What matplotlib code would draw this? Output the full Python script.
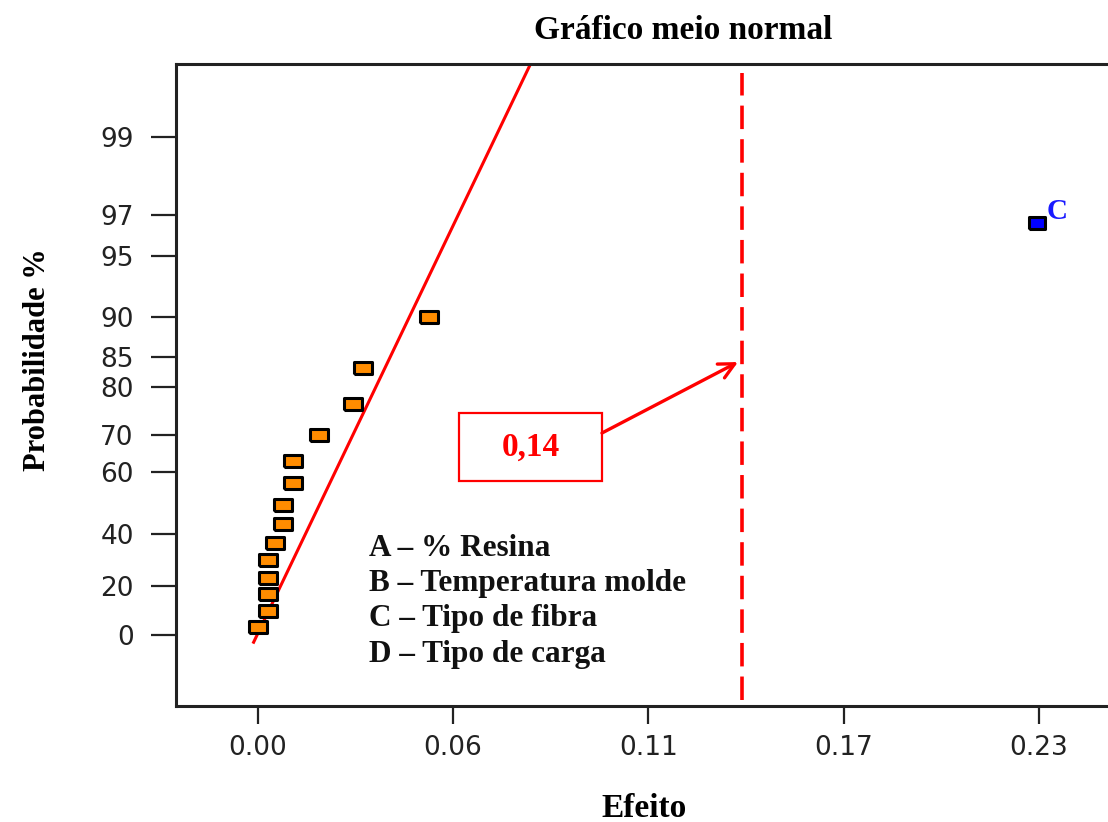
from statistics import NormalDist

import numpy as np
import matplotlib
matplotlib.use("Agg")
import matplotlib.pyplot as plt
from matplotlib.patches import Rectangle
from matplotlib.ticker import NullLocator

# ranked absolute effects and their half-normal probabilities (%)
effects = [0.0002, 0.0029, 0.0029, 0.0029, 0.0029, 0.0052, 0.0075, 0.0075,
           0.0105, 0.0105, 0.0180, 0.0281, 0.0309, 0.0505]
probs = [3.3, 10.0, 16.7, 23.3, 30.0, 36.7, 43.3, 50.0,
         56.7, 63.3, 70.0, 76.7, 83.3, 90.0]

# the significant effect (C - Tipo de fibra)
c_effect = 0.2293
c_prob = 96.7

# reference line through the small effects
line_effect = [-0.0012, 0.0822]
line_prob = [-3.0, 99.75]

# cut-off value
cutoff = 0.1425
cutoff_label = "0,14"

y_ticks = [0, 20, 40, 60, 70, 80, 85, 90, 95, 97, 99]
x_ticks = np.linspace(0, 0.23, 5)
x_ticklabels = ["0.00", "0.06", "0.11", "0.17", "0.23"]

legend_lines = ["A \u2013 % Resina",
                "B \u2013 Temperatura molde",
                "C \u2013 Tipo de fibra",
                "D \u2013 Tipo de carga"]

_nd = NormalDist()
_inv = np.vectorize(_nd.inv_cdf, otypes=[float])
_cdf = np.vectorize(_nd.cdf, otypes=[float])


def to_score(p):
    q = np.clip(0.5 + np.asarray(p, dtype=float) / 200.0, 1e-9, 1 - 1e-9)
    return _inv(q)


def from_score(z):
    return 200.0 * (_cdf(np.asarray(z, dtype=float)) - 0.5)


serif = "Liberation Serif"

fig = plt.figure(figsize=(11.08, 8.22), dpi=100)
ax = fig.add_axes([0.1584, 0.1417, 0.8452, 0.7804])
ax.set_yscale("function", functions=(to_score, from_score))

ax.plot(line_effect, line_prob, color="red", lw=2.2, zorder=2)
ax.axvline(cutoff, ymin=0.008, ymax=0.986, color="red", lw=2.6,
           linestyle=(0, (6.5, 2.8)), zorder=2)

rect_marker = [(-1.4, -1), (1.4, -1), (1.4, 1), (-1.4, 1), (-1.4, -1)]
ax.plot(effects, probs, linestyle="none", marker=rect_marker, ms=12.5,
        mfc="#ff8c00", mec="black", mew=2.2, zorder=3)
ax.plot([c_effect], [c_prob], linestyle="none", marker=rect_marker, ms=12,
        mfc="#0000ff", mec="black", mew=2.2, zorder=3)
ax.annotate("C", xy=(c_effect, c_prob), xytext=(7, 8),
            textcoords="offset points", ha="left", va="center",
            color="#1a1aff", fontsize=21, fontweight="bold", family=serif)

ax.set_xlim(-0.0242, 0.2515)
ax.set_ylim(-28.5, 99.686)

ax.set_xticks(x_ticks)
ax.set_xticklabels(x_ticklabels)
ax.set_yticks(y_ticks)
ax.set_yticklabels([str(v) for v in y_ticks])
ax.yaxis.set_minor_locator(NullLocator())
ax.xaxis.set_minor_locator(NullLocator())

ax.tick_params(axis="x", length=13, width=1.6, pad=8, labelsize=19,
               colors="#222222")
ax.tick_params(axis="y", length=18, width=1.6, pad=12, labelsize=19,
               colors="#222222")
for lab in ax.get_xticklabels() + ax.get_yticklabels():
    lab.set_family("DejaVu Sans")

ax.spines["right"].set_visible(False)
for s in ("left", "top", "bottom"):
    ax.spines[s].set_linewidth(2.2)
    ax.spines[s].set_color("#222222")

# legend of factors
for i, txt in enumerate(legend_lines):
    ax.text(0.207, 0.245 - i * 0.055, txt, transform=ax.transAxes,
            ha="left", va="center", fontsize=22.5, fontweight="bold",
            family=serif, color="#111111")

# cut-off box with arrow
ax.add_patch(Rectangle((0.3027, 0.35), 0.1527, 0.106, transform=ax.transAxes,
                       fill=False, ec="red", lw=1.6, zorder=4))
ax.text(0.379, 0.403, cutoff_label, transform=ax.transAxes, ha="center",
        va="center", fontsize=24, fontweight="bold", family=serif,
        color="red")
ax.annotate("", xy=(cutoff - 0.0011, 84.2), xytext=(0.4554, 0.4248),
            textcoords="axes fraction",
            arrowprops=dict(arrowstyle="->", color="red", lw=2.4,
                            mutation_scale=28, shrinkA=0, shrinkB=0))

fig.text(0.617, 0.963, "Gr\u00e1fico meio normal", ha="center", va="center",
         fontsize=24, fontweight="bold", family=serif)
fig.text(0.581, 0.017, "Efeito", ha="center", va="center",
         fontsize=24, fontweight="bold", family=serif)
fig.text(0.034, 0.562, "Probabilidade %", ha="center", va="center",
         rotation=90, fontsize=22, fontweight="bold", family=serif)

fig.savefig("out.png", dpi=100)
